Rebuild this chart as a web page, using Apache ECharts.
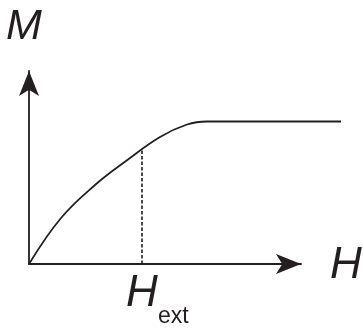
<!DOCTYPE html>
<html>
<head>
<meta charset="utf-8">
<script src="https://cdn.jsdelivr.net/npm/echarts@6/dist/echarts.min.js"></script>
<style>
  html, body { margin: 0; padding: 0; background: #fff; }
  #chart { width: 363px; height: 329px; }
</style>
</head>
<body>
<div id="chart"></div>
<script>
// curve (arbitrary units, H along x, M up)
const hValues = [0, 32, 66, 97, 131, 158, 178, 312]
const mValues = [0, 46, 79, 103, 127, 139.5, 142.5, 142.5]
const hExt = 113
const mAtExt = 115

const ink = '#231f20'
const fontFam = '"Liberation Sans", Arial, sans-serif'

const chart = echarts.init(document.getElementById('chart'))

const hidden = {
    axisLine: { show: false }, axisTick: { show: false }, axisLabel: { show: false }, splitLine: { show: false }
}

chart.setOption({
    animation: false,
    // grid 0 carries the arrowed axes, grid 1 (same scale, wider) carries the curve
    grid: [
        { left: 29, top: 71, width: 272, height: 193 },
        { left: 29, top: 71, width: 312, height: 193 }
    ],
    xAxis: [{
        type: 'value', min: 0, max: 272, gridIndex: 0,
        axisLine: { lineStyle: { color: ink, width: 1.8 }, symbol: ['none', 'arrow'], symbolSize: [15, 25] },
        axisTick: { show: false }, axisLabel: { show: false }, splitLine: { show: false }
    }, Object.assign({ type: 'value', min: 0, max: 312, gridIndex: 1 }, hidden)],
    yAxis: [{
        type: 'value', min: 0, max: 193, gridIndex: 0,
        axisLine: { show: true, lineStyle: { color: ink, width: 1.8 }, symbol: ['none', 'arrow'], symbolSize: [15, 25] },
        axisTick: { show: false }, axisLabel: { show: false }, splitLine: { show: false }
    }, Object.assign({ type: 'value', min: 0, max: 193, gridIndex: 1 }, hidden)],
    series: [{
        type: 'line',
        xAxisIndex: 1,
        yAxisIndex: 1,
        data: hValues.map((h, i) => [h, mValues[i]]),
        smooth: 0.4,
        showSymbol: false,
        lineStyle: { color: ink, width: 1.8 },
        markLine: {
            silent: true,
            symbol: 'none',
            label: { show: false },
            lineStyle: { color: ink, width: 1.6, type: [3.5, 2] },
            data: [[{ coord: [hExt, 0] }, { coord: [hExt, mAtExt] }]]
        }
    }],
    graphic: [
        { type: 'text', style: { x: 6, y: 27, text: 'M', font: 'italic 43px ' + fontFam, fill: ink, verticalAlign: 'middle' } },
        { type: 'text', style: { x: 330, y: 266, text: 'H', font: 'italic 44px ' + fontFam, fill: ink, verticalAlign: 'middle' } },
        { type: 'text', style: { x: 126, y: 294, text: 'H', font: 'italic 44px ' + fontFam, fill: ink, verticalAlign: 'middle' } },
        { type: 'text', style: { x: 158, y: 317, text: 'ext', font: '23px ' + fontFam, fill: ink, verticalAlign: 'middle' } }
    ]
})
</script>
</body>
</html>
